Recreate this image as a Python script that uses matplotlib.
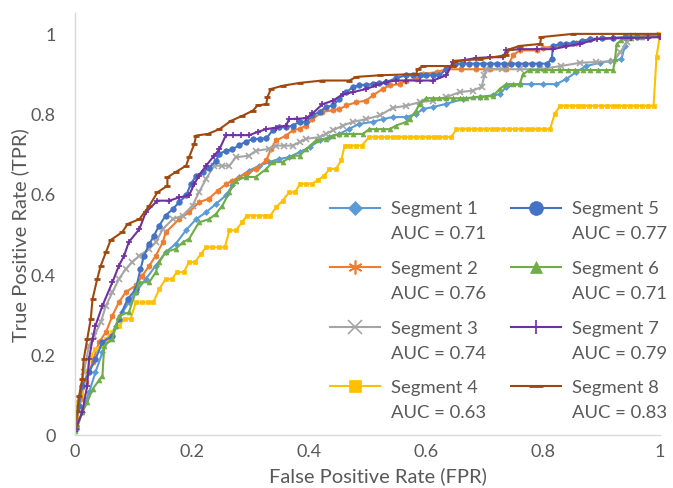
import matplotlib
matplotlib.use("Agg")
import matplotlib.pyplot as plt
from matplotlib.legend_handler import HandlerLine2D

plt.rcParams['font.family'] = ['Lato', 'DejaVu Sans']

# ROC points (FPR, TPR)
seg1_fpr = [0, 0.001, 0.0125, 0.024, 0.035, 0.047, 0.058, 0.07, 0.081, 0.092, 0.104, 0.121, 0.138, 0.155,
            0.172, 0.19, 0.207, 0.224, 0.241, 0.258, 0.269, 0.281, 0.298, 0.315, 0.332, 0.349, 0.366, 0.384,
            0.401, 0.418, 0.435, 0.452, 0.469, 0.486, 0.509, 0.526, 0.543, 0.566, 0.583, 0.595, 0.612, 0.635,
            0.663, 0.692, 0.714, 0.726, 0.737, 0.76, 0.78, 0.8, 0.823, 0.84, 0.857, 0.874, 0.897, 0.914, 0.934,
            0.94, 0.946, 1.0]
seg1_tpr = [0.01, 0.015, 0.056, 0.106, 0.156, 0.206, 0.239, 0.272, 0.305, 0.33, 0.356, 0.388, 0.421, 0.455,
            0.475, 0.51, 0.537, 0.554, 0.575, 0.596, 0.621, 0.642, 0.658, 0.67, 0.679, 0.687, 0.691, 0.704,
            0.716, 0.733, 0.741, 0.749, 0.762, 0.774, 0.779, 0.786, 0.791, 0.791, 0.799, 0.811, 0.816, 0.824,
            0.836, 0.841, 0.845, 0.848, 0.866, 0.873, 0.873, 0.873, 0.873, 0.886, 0.903, 0.918, 0.926, 0.93, 0.935,
            0.968, 0.99, 0.993]

seg2_fpr = [0, 0.004, 0.01, 0.018, 0.03, 0.041, 0.053, 0.064, 0.075, 0.087, 0.104, 0.115, 0.127, 0.138, 0.15,
            0.155, 0.178, 0.195, 0.212, 0.229, 0.244, 0.258, 0.269, 0.292, 0.309, 0.327, 0.335, 0.344, 0.361,
            0.372, 0.384, 0.395, 0.406, 0.423, 0.441, 0.452, 0.464, 0.481, 0.498, 0.509, 0.526, 0.538, 0.555,
            0.566, 0.583, 0.595, 0.618, 0.635, 0.66, 0.685, 0.71, 0.737, 0.749, 0.76, 0.789, 0.8, 0.857, 0.88, 1.0]
seg2_tpr = [0.02, 0.04, 0.09, 0.131, 0.181, 0.231, 0.256, 0.297, 0.33, 0.356, 0.372, 0.396, 0.421, 0.446, 0.479,
            0.504, 0.537, 0.554, 0.579, 0.588, 0.608, 0.624, 0.633, 0.65, 0.662, 0.683, 0.712, 0.733, 0.745,
            0.758, 0.762, 0.77, 0.786, 0.804, 0.808, 0.811, 0.82, 0.828, 0.832, 0.845, 0.861, 0.87, 0.873,
            0.882, 0.886, 0.898, 0.903, 0.91, 0.91, 0.91, 0.91, 0.91, 0.945, 0.957, 0.957, 0.963, 0.975, 0.985, 0.993]

seg3_fpr = [0, 0.001, 0.007, 0.015, 0.024, 0.033, 0.044, 0.053, 0.064, 0.075, 0.087, 0.098, 0.11, 0.127, 0.138,
            0.15, 0.167, 0.184, 0.201, 0.212, 0.224, 0.238, 0.251, 0.264, 0.275, 0.298, 0.309, 0.332, 0.344,
            0.358, 0.372, 0.384, 0.395, 0.418, 0.429, 0.441, 0.458, 0.475, 0.498, 0.521, 0.543, 0.566, 0.589,
            0.612, 0.635, 0.658, 0.68, 0.695, 0.7, 0.703, 0.73, 0.76, 0.795, 0.83, 0.863, 0.89, 0.92, 0.932,
            0.943, 0.954, 1.0]
seg3_tpr = [0.02, 0.023, 0.09, 0.156, 0.222, 0.247, 0.28, 0.322, 0.355, 0.388, 0.413, 0.43, 0.446, 0.463, 0.479,
            0.512, 0.537, 0.546, 0.571, 0.604, 0.637, 0.67, 0.67, 0.67, 0.691, 0.695, 0.707, 0.712, 0.72,
            0.72, 0.72, 0.729, 0.737, 0.741, 0.749, 0.758, 0.77, 0.779, 0.786, 0.795, 0.814, 0.819, 0.828,
            0.832, 0.841, 0.853, 0.857, 0.866, 0.895, 0.91, 0.91, 0.91, 0.91, 0.918, 0.926, 0.928, 0.93, 0.952,
            0.977, 0.993, 0.995]

seg4_fpr = [0, 0.002, 0.006, 0.012, 0.016, 0.021, 0.027, 0.035, 0.045, 0.053, 0.064, 0.075, 0.085, 0.095,
            0.104, 0.114, 0.124, 0.134, 0.144, 0.155, 0.166, 0.174, 0.186, 0.195, 0.205, 0.215, 0.224, 0.235,
            0.246, 0.256, 0.264, 0.275, 0.286, 0.294, 0.304, 0.314, 0.324, 0.334, 0.344, 0.355, 0.366, 0.376,
            0.385, 0.395, 0.405, 0.416, 0.426, 0.435, 0.446, 0.455, 0.461, 0.47, 0.48, 0.49, 0.503, 0.513,
            0.523, 0.533, 0.543, 0.553, 0.563, 0.573, 0.583, 0.593, 0.603, 0.613, 0.623, 0.633, 0.643, 0.652,
            0.662, 0.672, 0.682, 0.692, 0.702, 0.712, 0.722, 0.732, 0.742, 0.752, 0.762, 0.772, 0.782, 0.792,
            0.802, 0.812, 0.82, 0.829, 0.839, 0.849, 0.859, 0.869, 0.879, 0.889, 0.899, 0.909, 0.919, 0.929,
            0.939, 0.949, 0.959, 0.969, 0.979, 0.989, 0.994, 1.0]
seg4_tpr = [0.02, 0.05, 0.08, 0.1, 0.13, 0.156, 0.197, 0.214, 0.222, 0.239, 0.256, 0.272, 0.289, 0.289,
            0.33, 0.33, 0.33, 0.33, 0.363, 0.388, 0.388, 0.405, 0.405, 0.43, 0.43, 0.45, 0.467, 0.467,
            0.467, 0.467, 0.509, 0.509, 0.53, 0.546, 0.546, 0.546, 0.546, 0.546, 0.567, 0.583, 0.604, 0.604,
            0.625, 0.625, 0.625, 0.635, 0.645, 0.662, 0.662, 0.683, 0.72, 0.72, 0.72, 0.72, 0.741, 0.741,
            0.741, 0.741, 0.741, 0.741, 0.741, 0.741, 0.741, 0.741, 0.741, 0.741, 0.741, 0.741, 0.741, 0.761,
            0.761, 0.761, 0.761, 0.761, 0.761, 0.761, 0.761, 0.761, 0.761, 0.761, 0.761, 0.761, 0.761, 0.761,
            0.761, 0.761, 0.799, 0.819, 0.819, 0.819, 0.819, 0.819, 0.819, 0.819, 0.819, 0.819, 0.819, 0.819,
            0.819, 0.819, 0.819, 0.819, 0.819, 0.819, 0.94, 0.998]

seg5_fpr = [0, 0.001, 0.007, 0.0125, 0.024, 0.035, 0.047, 0.064, 0.075, 0.09, 0.104, 0.112, 0.118, 0.127,
            0.135, 0.144, 0.155, 0.167, 0.178, 0.19, 0.198, 0.207, 0.218, 0.229, 0.241, 0.247, 0.258, 0.269,
            0.281, 0.292, 0.304, 0.316, 0.327, 0.338, 0.349, 0.361, 0.372, 0.384, 0.395, 0.406, 0.418, 0.429,
            0.441, 0.452, 0.464, 0.475, 0.486, 0.498, 0.509, 0.52, 0.532, 0.549, 0.566, 0.578, 0.589, 0.6,
            0.612, 0.623, 0.635, 0.649, 0.661, 0.673, 0.685, 0.697, 0.709, 0.721, 0.733, 0.745, 0.757, 0.769,
            0.781, 0.793, 0.806, 0.815, 0.817, 0.829, 0.84, 0.851, 0.866, 0.88, 0.9, 0.92, 0.94, 0.96, 0.98, 1.0]
seg5_tpr = [0.02, 0.023, 0.073, 0.123, 0.156, 0.189, 0.231, 0.247, 0.289, 0.338, 0.363, 0.413, 0.446, 0.475,
            0.496, 0.521, 0.546, 0.562, 0.579, 0.596, 0.624, 0.645, 0.654, 0.665, 0.682, 0.7, 0.707, 0.711,
            0.721, 0.73, 0.736, 0.737, 0.738, 0.758, 0.766, 0.766, 0.77, 0.779, 0.779, 0.795, 0.804, 0.816,
            0.82, 0.836, 0.853, 0.866, 0.87, 0.872, 0.873, 0.875, 0.878, 0.888, 0.895, 0.895, 0.895, 0.895,
            0.895, 0.896, 0.91, 0.924, 0.924, 0.924, 0.924, 0.924, 0.924, 0.924, 0.924, 0.924, 0.924, 0.924,
            0.924, 0.924, 0.924, 0.935, 0.968, 0.973, 0.974, 0.975, 0.98, 0.985, 0.987, 0.988, 0.99, 0.99, 0.992, 0.993]

seg6_fpr = [0, 0.004, 0.0125, 0.021, 0.03, 0.041, 0.047, 0.05, 0.064, 0.07, 0.075, 0.092, 0.104, 0.11, 0.127,
            0.138, 0.144, 0.155, 0.172, 0.184, 0.195, 0.212, 0.229, 0.241, 0.252, 0.264, 0.275, 0.292, 0.309,
            0.327, 0.338, 0.355, 0.372, 0.384, 0.395, 0.412, 0.429, 0.441, 0.452, 0.464, 0.476, 0.492, 0.503,
            0.515, 0.527, 0.538, 0.549, 0.566, 0.572, 0.583, 0.589, 0.6, 0.612, 0.623, 0.635, 0.647, 0.658,
            0.669, 0.68, 0.692, 0.703, 0.714, 0.726, 0.737, 0.748, 0.76, 0.766, 0.777, 0.79, 0.803, 0.816,
            0.829, 0.842, 0.855, 0.868, 0.881, 0.894, 0.907, 0.92, 0.923, 0.926, 0.934, 0.95, 0.97, 1.0]
seg6_tpr = [0.01, 0.02, 0.056, 0.081, 0.114, 0.136, 0.148, 0.222, 0.239, 0.272, 0.297, 0.305, 0.356, 0.38, 0.38,
            0.405, 0.43, 0.455, 0.463, 0.479, 0.488, 0.529, 0.537, 0.55, 0.571, 0.604, 0.633, 0.642, 0.642,
            0.662, 0.679, 0.679, 0.695, 0.695, 0.711, 0.733, 0.737, 0.745, 0.749, 0.749, 0.749, 0.749, 0.761,
            0.761, 0.761, 0.761, 0.77, 0.779, 0.786, 0.807, 0.824, 0.838, 0.838, 0.838, 0.838, 0.838, 0.838,
            0.838, 0.84, 0.842, 0.842, 0.843, 0.861, 0.873, 0.873, 0.873, 0.898, 0.908, 0.908, 0.908, 0.908,
            0.908, 0.908, 0.908, 0.908, 0.908, 0.908, 0.908, 0.908, 0.935, 0.973, 0.983, 0.988, 0.99, 0.993]

seg7_fpr = [0, 0.001, 0.0125, 0.021, 0.024, 0.03, 0.035, 0.047, 0.064, 0.075, 0.084, 0.092, 0.11, 0.121,
            0.141, 0.161, 0.178, 0.195, 0.204, 0.212, 0.224, 0.238, 0.247, 0.258, 0.27, 0.284, 0.298, 0.312,
            0.327, 0.344, 0.361, 0.366, 0.38, 0.395, 0.406, 0.423, 0.441, 0.458, 0.475, 0.498, 0.515, 0.532,
            0.549, 0.566, 0.59, 0.612, 0.635, 0.646, 0.666, 0.686, 0.71, 0.732, 0.737, 0.76, 0.79, 0.817,
            0.84, 0.863, 0.892, 0.92, 0.95, 0.98, 1.0]
seg7_tpr = [0.01, 0.015, 0.057, 0.123, 0.189, 0.239, 0.272, 0.322, 0.38, 0.421, 0.446, 0.48, 0.512, 0.554,
            0.583, 0.583, 0.591, 0.596, 0.625, 0.645, 0.67, 0.695, 0.711, 0.746, 0.746, 0.746, 0.746, 0.754,
            0.761, 0.765, 0.77, 0.786, 0.787, 0.788, 0.8, 0.823, 0.832, 0.848, 0.853, 0.861, 0.87, 0.878,
            0.882, 0.882, 0.882, 0.882, 0.895, 0.928, 0.933, 0.938, 0.94, 0.94, 0.957, 0.96, 0.96, 0.96,
            0.967, 0.973, 0.985, 0.987, 0.988, 0.989, 0.99]

seg8_fpr = [0, 0.004, 0.007, 0.0125, 0.015, 0.021, 0.027, 0.03, 0.038, 0.044, 0.053, 0.061, 0.081, 0.09,
            0.11, 0.127, 0.141, 0.158, 0.158, 0.172, 0.19, 0.195, 0.204, 0.207, 0.227, 0.247, 0.267, 0.286,
            0.304, 0.312, 0.327, 0.329, 0.335, 0.355, 0.384, 0.423, 0.469, 0.481, 0.521, 0.583, 0.586, 0.595,
            0.646, 0.649, 0.692, 0.737, 0.743, 0.76, 0.795, 0.797, 0.851, 1.0]
seg8_tpr = [0.025, 0.06, 0.097, 0.139, 0.189, 0.239, 0.289, 0.338, 0.388, 0.421, 0.455, 0.485, 0.505, 0.525,
            0.537, 0.57, 0.604, 0.62, 0.641, 0.654, 0.67, 0.691, 0.724, 0.745, 0.749, 0.761, 0.782, 0.794,
            0.807, 0.82, 0.823, 0.841, 0.861, 0.869, 0.876, 0.882, 0.882, 0.891, 0.895, 0.898, 0.91, 0.918,
            0.918, 0.931, 0.935, 0.945, 0.96, 0.968, 0.973, 0.99, 0.998, 0.998]

labels = ['Segment 1', 'Segment 2', 'Segment 3', 'Segment 4',
          'Segment 5', 'Segment 6', 'Segment 7', 'Segment 8']
auc = [0.71, 0.76, 0.74, 0.63, 0.77, 0.71, 0.79, 0.83]
colors = ['#5B9BD5', '#ED7D31', '#A5A5A5', '#FFC000', '#4472C4', '#70AD47', '#7030A0', '#9E480E']
markers = ['D', (6, 2, 0), 'x', 's', 'o', '^', '+', '_']
msizes = [3, 4, 4, 3.5, 4, 3.5, 4, 4]
medges = [0.5, 1.2, 1.2, 0.5, 0.5, 0.5, 1.2, 2.0]

fprs = [seg1_fpr, seg2_fpr, seg3_fpr, seg4_fpr, seg5_fpr, seg6_fpr, seg7_fpr, seg8_fpr]
tprs = [seg1_tpr, seg2_tpr, seg3_tpr, seg4_tpr, seg5_tpr, seg6_tpr, seg7_tpr, seg8_tpr]


# legend handle drawn level with the first line of the two-line label
class TopLineHandler(HandlerLine2D):
    def create_artists(self, legend, orig_handle, xdescent, ydescent, width, height, fontsize, trans):
        arts = super().create_artists(legend, orig_handle, xdescent, ydescent, width, height, fontsize, trans)
        for a in arts:
            a.set_ydata([y + 0.72 * fontsize for y in a.get_ydata()])
        return arts


fig = plt.figure(figsize=(6.73, 4.89), dpi=100)
ax = fig.add_axes([0.1114, 0.1084, 0.8693, 0.863])

handles = []
for i in range(8):
    line, = ax.plot(fprs[i], tprs[i], color=colors[i], lw=1.5, marker=markers[i],
                    markersize=msizes[i], markeredgewidth=medges[i],
                    label=labels[i] + '\nAUC = ' + format(auc[i], '.2f'))
    handles.append(line)

ax.set_xlim(0, 1)
ax.set_ylim(0, 1.05)
ticks = [0, 0.2, 0.4, 0.6, 0.8, 1]
tick_labels = ['0', '0.2', '0.4', '0.6', '0.8', '1']
ax.set_xticks(ticks)
ax.set_xticklabels(tick_labels)
ax.set_yticks(ticks)
ax.set_yticklabels(tick_labels)
ax.tick_params(axis='both', length=0, labelsize=13, labelcolor='#595959')
ax.tick_params(axis='x', pad=6)
ax.tick_params(axis='y', pad=14)

for s in ['top', 'right']:
    ax.spines[s].set_visible(False)
for s in ['left', 'bottom']:
    ax.spines[s].set_color('#D9D9D9')
    ax.spines[s].set_linewidth(1)

ax.set_xlabel('False Positive Rate (FPR)', fontsize=14.5, color='#595959')
ax.set_ylabel('True Positive Rate (TPR)', fontsize=14.5, color='#595959')
ax.xaxis.set_label_coords(0.518, -0.073)
ax.yaxis.set_label_coords(-0.078, 0.476)

leg = ax.legend(handles=handles, ncol=2, loc='upper left', bbox_to_anchor=(0.436, 0.556),
                frameon=False, fontsize=13.3, labelcolor='#595959', handlelength=2.7,
                handletextpad=0.6, columnspacing=1.35, labelspacing=1.0, markerscale=2.5,
                borderpad=0, borderaxespad=0,
                handler_map={h: TopLineHandler() for h in handles})
for t in leg.get_texts():
    t.set_linespacing(1.7)

fig.savefig('out.png', dpi=100)
